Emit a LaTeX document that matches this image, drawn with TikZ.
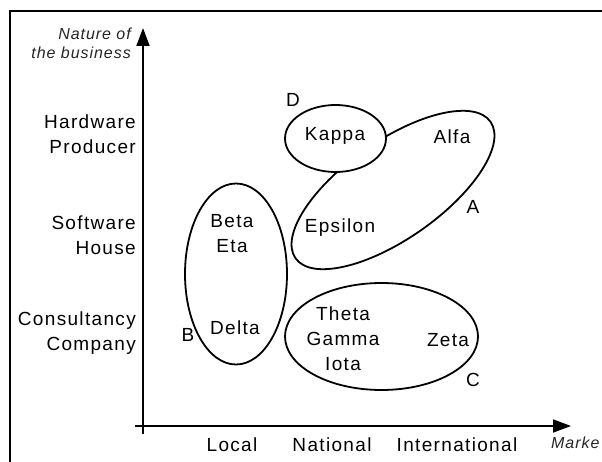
\documentclass[tikz,border=0pt]{standalone}
\usepackage{fontspec}
\usetikzlibrary{arrows.meta,shapes.geometric}
\newfontfamily\labfont{Liberation Sans}[LetterSpace=7]
\newfontfamily\itfont{Liberation Sans}[LetterSpace=6,ItalicFont={Liberation Sans Italic}]
\begin{document}
\begin{tikzpicture}[x=1pt,y=-1pt,
  lab/.style={font=\labfont\fontsize{19}{25}\selectfont, inner sep=0pt, align=center},
  axlab/.style={font=\itfont\itshape\fontsize{16}{19}\selectfont, inner sep=0pt, align=right, text=black!85},
  grp/.style={draw=black, line width=1.8pt, ellipse, inner sep=0pt, fill=white},
  axis/.style={line width=1.8pt, -{Triangle[length=18pt,width=13pt]}},
  frame/.style={line width=2.2pt}]
\clip (0,0) rectangle (602,462);
\fill[white] (0,0) rectangle (602,462);
% frame
\coordinate (fbl) at (10,470);
\coordinate (ftl) at (10,11);
\coordinate (ftr) at (610,11);
\draw[frame] (fbl) -- (ftl) -- (ftr);
% axes
\coordinate (ybot) at (143,434);
\coordinate (ytop) at (143,28);
\coordinate (xleft) at (135,426);
\coordinate (xright) at (571,426);
\draw[axis] (ybot) -- (ytop);
\draw[axis] (xleft) -- (xright);
% axis titles
\node[axlab, anchor=east] (ytitle) at (131,43) {Nature of\\the business};
\node[axlab, anchor=west, align=left] (xtitle) at (551,443) {Marke};
% category labels
\node[lab, anchor=east, align=right] (hw) at (136,134) {Hardware\\Producer};
\node[lab, anchor=east, align=right] (sw) at (136,235) {Software\\House};
\node[lab, anchor=east, align=right] (cc) at (136,333) {Consultancy\\Company};
\node[lab] (loc) at (232,445) {Local};
\node[lab] (nat) at (332,445) {National};
\node[lab] (int) at (457,445) {International};
% groups
\node[grp, minimum width=238pt, minimum height=98pt, rotate=35] (A) at (393,190) {};
\node[grp, minimum width=101pt, minimum height=67pt] (D) at (335.5,138.5) {};
\node[grp, minimum width=102pt, minimum height=181pt] (B) at (236,274) {};
\node[grp, minimum width=193pt, minimum height=107pt] (C) at (381.5,336.5) {};
% members
\node[lab] (kappa) at (335,136) {Kappa};
\node[lab] (alfa) at (452,137) {Alfa};
\node[lab] (eps) at (340,228) {Epsilon};
\node[lab] (beta) at (232,234) {Beta\\Eta};
\node[lab] (delta) at (235,328) {Delta};
\node[lab] (theta) at (343,339) {Theta\\Gamma\\Iota};
\node[lab] (zeta) at (448,340) {Zeta};
% group letters
\node[lab] (lA) at (473,207) {A};
\node[lab] (lB) at (188,335) {B};
\node[lab] (lC) at (473,380) {C};
\node[lab] (lD) at (293,100) {D};
\end{tikzpicture}
\end{document}
